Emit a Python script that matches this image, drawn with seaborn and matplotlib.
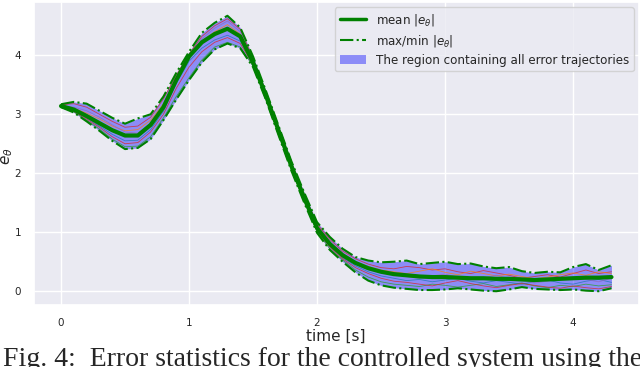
import numpy as np
import pandas as pd
import matplotlib
matplotlib.use("Agg")
import matplotlib.pyplot as plt
import seaborn as sns
from matplotlib.lines import Line2D
from matplotlib.patches import Patch

# time axis [s]
time = [0.0, 0.1, 0.2, 0.3, 0.4, 0.5, 0.6, 0.7, 0.8, 0.9,
        1.0, 1.1, 1.2, 1.3, 1.4, 1.5, 1.6, 1.7, 1.8, 1.9,
        2.0, 2.1, 2.2, 2.3, 2.4, 2.5, 2.6, 2.7, 2.8, 2.9,
        3.0, 3.1, 3.2, 3.3, 3.4, 3.5, 3.6, 3.7, 3.8, 3.9,
        4.0, 4.1, 4.2, 4.3]

# mean |e_theta|
mean_err = [3.14, 3.08, 2.97, 2.85, 2.73, 2.64, 2.64, 2.82, 3.12, 3.58,
            3.98, 4.22, 4.36, 4.45, 4.32, 3.88, 3.32, 2.72, 2.12, 1.58,
            1.07, 0.80, 0.61, 0.48, 0.39, 0.33, 0.29, 0.27, 0.25, 0.24,
            0.24, 0.23, 0.22, 0.22, 0.21, 0.21, 0.20, 0.19, 0.20, 0.21,
            0.22, 0.23, 0.23, 0.24]

# max |e_theta|
max_err = [3.17, 3.21, 3.18, 3.06, 2.94, 2.84, 2.93, 3.00, 3.30, 3.70,
           4.06, 4.38, 4.55, 4.67, 4.47, 3.98, 3.40, 2.80, 2.20, 1.67,
           1.17, 0.92, 0.72, 0.58, 0.52, 0.49, 0.50, 0.52, 0.46, 0.48,
           0.50, 0.46, 0.47, 0.42, 0.39, 0.41, 0.34, 0.31, 0.33, 0.32,
           0.41, 0.46, 0.36, 0.44]

# min |e_theta|
min_err = [3.12, 3.03, 2.88, 2.72, 2.55, 2.41, 2.43, 2.58, 2.90, 3.25,
           3.58, 3.88, 4.10, 4.20, 4.12, 3.80, 3.25, 2.64, 2.04, 1.50,
           0.99, 0.70, 0.50, 0.32, 0.18, 0.10, 0.06, 0.04, 0.02, 0.02,
           0.03, 0.05, 0.03, 0.01, 0.00, 0.03, 0.07, 0.04, 0.03, 0.02,
           0.03, 0.01, 0.00, 0.05]

# a few of the individual error trajectories
traj_1 = [3.16, 3.18, 3.12, 3.00, 2.88, 2.78, 2.80, 2.95, 3.26, 3.66,
          4.02, 4.32, 4.50, 4.62, 4.44, 3.95, 3.38, 2.78, 2.18, 1.64,
          1.14, 0.88, 0.68, 0.55, 0.46, 0.40, 0.38, 0.42, 0.40, 0.36,
          0.38, 0.33, 0.30, 0.35, 0.31, 0.27, 0.22, 0.25, 0.28, 0.24,
          0.30, 0.36, 0.30, 0.33]
traj_2 = [3.12, 3.04, 2.90, 2.75, 2.58, 2.45, 2.46, 2.62, 2.94, 3.30,
          3.62, 3.92, 4.14, 4.22, 4.14, 3.82, 3.27, 2.66, 2.06, 1.52,
          1.01, 0.72, 0.53, 0.36, 0.24, 0.16, 0.12, 0.10, 0.08, 0.12,
          0.10, 0.07, 0.10, 0.13, 0.08, 0.11, 0.14, 0.09, 0.06, 0.10,
          0.08, 0.12, 0.09, 0.11]
traj_3 = [3.14, 3.10, 3.02, 2.92, 2.80, 2.72, 2.74, 2.90, 3.18, 3.60,
          3.96, 4.24, 4.40, 4.52, 4.36, 3.90, 3.34, 2.74, 2.14, 1.60,
          1.09, 0.82, 0.63, 0.50, 0.42, 0.36, 0.33, 0.30, 0.34, 0.38,
          0.32, 0.28, 0.34, 0.30, 0.26, 0.29, 0.25, 0.21, 0.24, 0.28,
          0.31, 0.27, 0.33, 0.30]
traj_4 = [3.13, 3.06, 2.94, 2.80, 2.66, 2.55, 2.56, 2.74, 3.05, 3.52,
          3.90, 4.12, 4.26, 4.34, 4.24, 3.86, 3.30, 2.70, 2.10, 1.56,
          1.05, 0.77, 0.57, 0.43, 0.33, 0.26, 0.22, 0.18, 0.20, 0.16,
          0.19, 0.22, 0.17, 0.14, 0.18, 0.15, 0.12, 0.16, 0.19, 0.14,
          0.12, 0.17, 0.20, 0.15]
traj_5 = [3.15, 3.12, 3.06, 2.95, 2.82, 2.70, 2.68, 2.84, 3.14, 3.56,
          3.98, 4.28, 4.46, 4.58, 4.40, 3.92, 3.35, 2.75, 2.15, 1.61,
          1.10, 0.84, 0.65, 0.50, 0.40, 0.33, 0.28, 0.25, 0.22, 0.26,
          0.29, 0.24, 0.20, 0.23, 0.27, 0.22, 0.18, 0.14, 0.17, 0.21,
          0.25, 0.20, 0.16, 0.22]
traj_6 = [3.13, 3.05, 2.92, 2.78, 2.62, 2.50, 2.52, 2.70, 3.00, 3.44,
          3.80, 4.06, 4.22, 4.30, 4.20, 3.84, 3.28, 2.68, 2.08, 1.54,
          1.03, 0.75, 0.55, 0.40, 0.30, 0.22, 0.17, 0.15, 0.12, 0.09,
          0.14, 0.18, 0.13, 0.09, 0.06, 0.10, 0.13, 0.10, 0.07, 0.05,
          0.09, 0.06, 0.04, 0.08]
trajectories = [traj_1, traj_2, traj_3, traj_4, traj_5, traj_6]

GREEN = "#008000"
BLUE = "#0000ff"

sns.set_theme(style="darkgrid")

fig = plt.figure(figsize=(6.4, 3.67), dpi=100)
ax = fig.add_axes([33.5 / 640, 62 / 367, 605.5 / 640, 303 / 367])

# band containing all trajectories
ax.fill_between(time, min_err, max_err, color=BLUE, alpha=0.4, linewidth=0, zorder=1)

# individual trajectories, thin lines in default colour cycle
palette = sns.color_palette("tab10")
traj_colors = [palette[3], palette[2], palette[1], palette[0], palette[4], palette[3]]
for traj, col in zip(trajectories, traj_colors):
    sns.lineplot(x=time, y=traj, ax=ax, color=col, linewidth=0.6, alpha=0.8, zorder=2)

sns.lineplot(x=time, y=max_err, ax=ax, color=GREEN, linewidth=1.5, linestyle="-.", zorder=3)
sns.lineplot(x=time, y=min_err, ax=ax, color=GREEN, linewidth=1.5, linestyle="-.", zorder=3)
sns.lineplot(x=time, y=mean_err, ax=ax, color=GREEN, linewidth=3, zorder=4)

ax.set_xticks([0, 1, 2, 3, 4])
ax.set_yticks([0, 1, 2, 3, 4])
ax.tick_params(labelsize=7.5, pad=3)
ax.set_xlabel("time [s]", fontsize=11, labelpad=1)
ax.set_ylabel(r"$e_\theta$", fontsize=11)
ax.yaxis.set_label_coords(-0.03, 0.49)

handles = [
    Line2D([], [], color=GREEN, linewidth=2.5),
    Line2D([], [], color=GREEN, linewidth=1.5, linestyle="-."),
    Patch(facecolor=BLUE, alpha=0.4, linewidth=0),
]
labels = [r"mean $|e_\theta|$", r"max/min $|e_\theta|$",
          "The region containing all error trajectories"]
ax.legend(handles, labels, loc="upper right", fontsize=8.6, handlelength=2.2,
          borderaxespad=0.45, labelspacing=0.4)

# caption from the paper page (cut off at the edge, as in the source)
fig.text(0.004, (367 - 347) / 367, "Fig. 4:  Error statistics for the controlled system using the",
         family="Liberation Serif", fontsize=20, va="top", ha="left")

fig.savefig("out.png", dpi=100)
